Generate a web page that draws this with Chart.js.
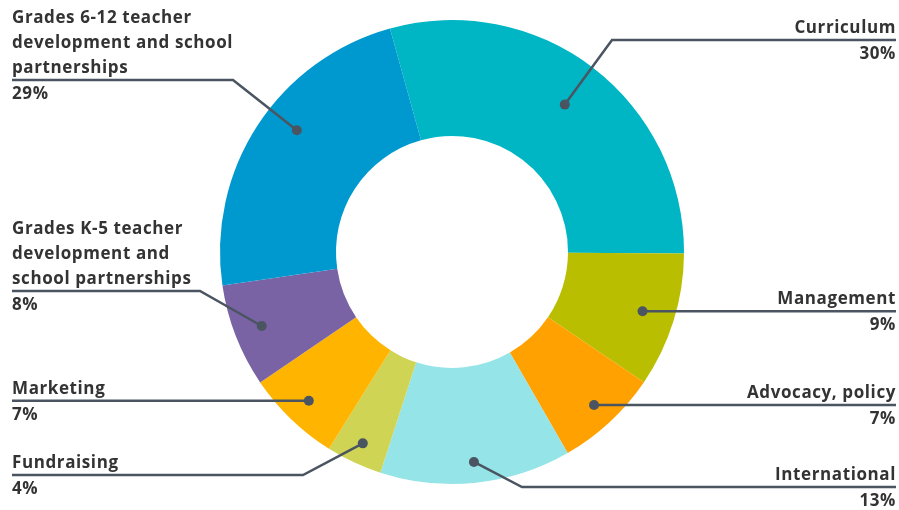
<!DOCTYPE html>
<html>
<head>
<meta charset="utf-8">
<script src="https://cdn.jsdelivr.net/npm/chart.js@4.4.1/dist/chart.umd.min.js"></script>
<style>
  html, body { margin: 0; padding: 0; background: #ffffff; }
  #wrap { width: 899px; height: 510px; position: relative; }
</style>
</head>
<body>
<div id="wrap"><canvas id="budget"></canvas></div>
<script>
// slices, clockwise from the top
const categories = [
  'Curriculum',
  'Management',
  'Advocacy, policy',
  'International',
  'Fundraising',
  'Marketing',
  'Grades K-5 teacher development and school partnerships',
  'Grades 6-12 teacher development and school partnerships'
];
// arc sizes as drawn in the picture (the printed figures add up to 107%)
const arcShares = [29.4, 9.4, 7.2, 13.3, 3.9, 6.6, 7.2, 23.0];
// figures printed under each label
const percentLabels = ['30%', '9%', '7%', '13%', '4%', '7%', '8%', '29%'];
const labelLines = [
  ['Curriculum'],
  ['Management'],
  ['Advocacy, policy'],
  ['International'],
  ['Fundraising'],
  ['Marketing'],
  ['Grades K-5 teacher', 'development and', 'school partnerships'],
  ['Grades 6-12 teacher', 'development and school', 'partnerships']
];
const colors = ['#00b6c4', '#b9be00', '#ffa100', '#95e4e8', '#cfd455', '#ffb400', '#7963a5', '#0099cf'];

// label layout (not data)
const labelSide = ['right', 'right', 'right', 'right', 'left', 'left', 'left', 'left'];
const underlineY = [40, null, null, 487, 475, null, 291, 80];   // null = line runs flat from the dot
const elbowX = [612, null, null, 522, 303, null, 200, 233];
const dotDepth = [0.80, 0.86, 0.90, 0.91, 0.91, 0.89, 0.88, 0.85];
const dotTurn = [0, 0, 0, 0, 0, 0, 0, 5];   // degrees, nudges the dot along its slice

const LINE = '#4a5561';
const TEXT = '#333333';
const FONT = '700 17px "Open Sans"';

const calloutPlugin = {
  id: 'callouts',
  afterDraw(chart) {
    const ctx = chart.ctx;
    const meta = chart.getDatasetMeta(0);
    ctx.save();
    meta.data.forEach(function (arc, i) {
      const p = arc.getProps(['x', 'y', 'startAngle', 'endAngle', 'outerRadius'], true);
      const mid = (p.startAngle + p.endAngle) / 2 + dotTurn[i] * Math.PI / 180;
      const r = p.outerRadius * dotDepth[i];
      const dx = p.x + Math.cos(mid) * r;
      const dy = p.y + Math.sin(mid) * r;
      const ly = underlineY[i] === null ? dy : underlineY[i];
      const ex = elbowX[i] === null ? dx : elbowX[i];
      const right = labelSide[i] === 'right';
      const endX = right ? 896 : 12;

      ctx.strokeStyle = LINE;
      ctx.lineWidth = 2.5;
      ctx.beginPath();
      ctx.moveTo(dx, dy);
      ctx.lineTo(ex, ly);
      ctx.lineTo(endX, ly);
      ctx.stroke();

      ctx.fillStyle = LINE;
      ctx.beginPath();
      ctx.arc(dx, dy, 5, 0, Math.PI * 2);
      ctx.fill();

      ctx.fillStyle = TEXT;
      ctx.font = FONT;
      ctx.letterSpacing = '0.6px';
      ctx.textAlign = right ? 'right' : 'left';
      ctx.textBaseline = 'middle';
      const lines = labelLines[i];
      lines.forEach(function (t, k) {
        ctx.fillText(t, endX, ly - 12 - (lines.length - 1 - k) * 25);
      });
      ctx.fillText(percentLabels[i], endX, ly + 14);
    });
    ctx.restore();
  }
};

new Chart(document.getElementById('budget').getContext('2d'), {
  type: 'doughnut',
  data: {
    labels: categories,
    datasets: [{
      data: arcShares,
      backgroundColor: colors,
      borderWidth: 0
    }]
  },
  options: {
    responsive: true,
    maintainAspectRatio: false,
    animation: false,
    rotation: -15.5,
    cutout: '50%',
    layout: { padding: { top: 20, bottom: 26, left: 5, right: 0 } },
    plugins: {
      legend: { display: false },
      tooltip: { enabled: false }
    }
  },
  plugins: [calloutPlugin]
});
</script>
</body>
</html>
